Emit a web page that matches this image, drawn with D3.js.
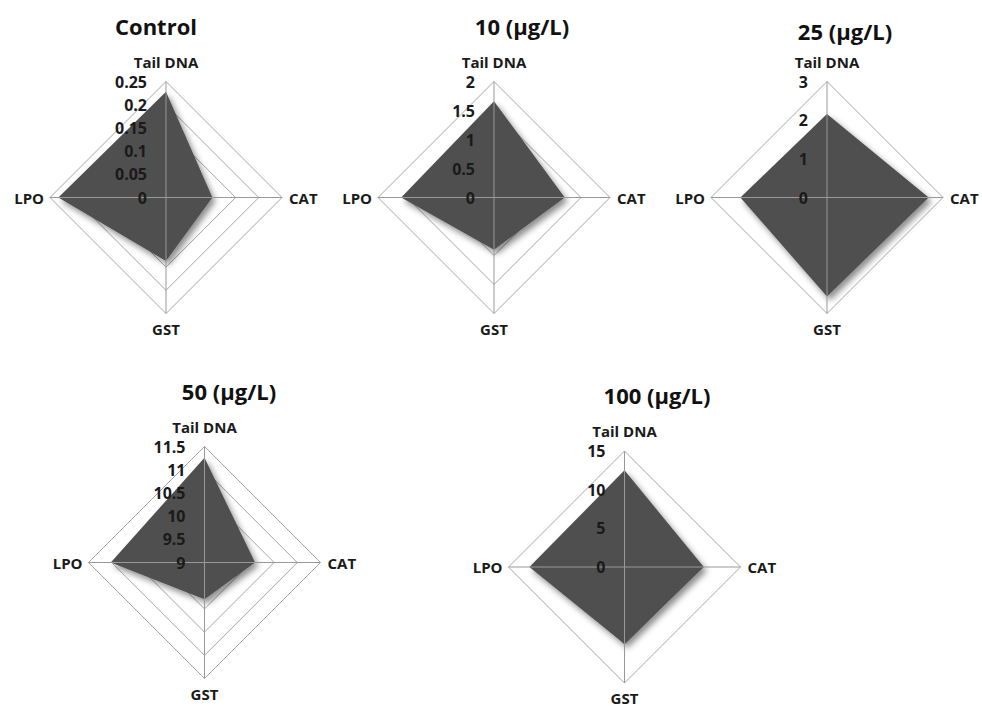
<!DOCTYPE html>
<html>
<head>
<meta charset="utf-8">
<script src="https://cdn.jsdelivr.net/npm/d3@7"></script>
<style>
  body { margin: 0; background: #fff; }
  svg { display: block; font-family: "Open Sans", Lato, sans-serif; font-weight: bold; }
</style>
</head>
<body>
<svg width="982" height="711"></svg>
<script>
// axes, clockwise from the top
const axes = ['Tail DNA', 'CAT', 'GST', 'LPO']
const titles = ['Control', '10 (µg/L)', '25 (µg/L)', '50 (µg/L)', '100 (µg/L)']

// values per chart, in axes order
const controlValues = [0.228, 0.10, 0.137, 0.232]
const conc10Values = [1.66, 1.22, 0.9, 1.6]
const conc25Values = [2.16, 2.63, 2.56, 2.24]
const conc50Values = [11.26, 10.09, 9.79, 11.02]
const conc100Values = [12.5, 10.26, 9.95, 12.3]

// tick labels per chart
const controlTicks = ['0', '0.05', '0.1', '0.15', '0.2', '0.25']
const conc10Ticks = ['0', '0.5', '1', '1.5', '2']
const conc25Ticks = ['0', '1', '2', '3']
const conc50Ticks = ['9', '9.5', '10', '10.5', '11', '11.5']
const conc100Ticks = ['0', '5', '10', '15']

const allValues = [controlValues, conc10Values, conc25Values, conc50Values, conc100Values]
const allTicks = [controlTicks, conc10Ticks, conc25Ticks, conc50Ticks, conc100Ticks]

// layout: chart centre, title position
const layout = [
  { cx: 166, cy: 197.5, tx: 156, ty: 35 },
  { cx: 494, cy: 197.5, tx: 522, ty: 35 },
  { cx: 827, cy: 197.5, tx: 845, ty: 40 },
  { cx: 204.5, cy: 562.5, tx: 229, ty: 400 },
  { cx: 624.5, cy: 567, tx: 657, ty: 404 }
]
const radius = 116

const svg = d3.select('svg')

// drop shadow under the filled area
const defs = svg.append('defs')
defs.append('filter')
    .attr('id', 'shadow')
    .attr('x', '-20%').attr('y', '-20%')
    .attr('width', '140%').attr('height', '140%')
  .append('feDropShadow')
    .attr('dx', 3).attr('dy', 4)
    .attr('stdDeviation', 3)
    .attr('flood-color', '#000')
    .attr('flood-opacity', 0.45)

const angle = i => -Math.PI / 2 + i * Math.PI / 2
const point = (i, r) => [Math.cos(angle(i)) * r, Math.sin(angle(i)) * r]

titles.forEach((title, k) => drawRadar(k))

function drawRadar(k) {
  const L = layout[k]
  const ticks = allTicks[k].map(Number)
  const values = allValues[k]

  const r = d3.scaleLinear()
    .domain([ticks[0], ticks[ticks.length - 1]])
    .range([0, radius])

  const g = svg.append('g').attr('transform', `translate(${L.cx},${L.cy})`)

  // grid rings
  g.append('g').selectAll('path.ring')
    .data(ticks.slice(1))
    .enter().append('path')
      .attr('d', t => 'M' + axes.map((a, i) => point(i, r(t))).join('L') + 'Z')
      .attr('fill', 'none')
      .attr('stroke', '#a6a6a6')
      .attr('stroke-width', 1)

  // filled series
  g.append('path')
    .datum(values)
    .attr('d', d => 'M' + d.map((v, i) => point(i, r(v))).join('L') + 'Z')
    .attr('fill', '#505050')
    .attr('filter', 'url(#shadow)')

  // spokes
  g.append('g').selectAll('line')
    .data(axes)
    .enter().append('line')
      .attr('x1', 0).attr('y1', 0)
      .attr('x2', (d, i) => point(i, radius)[0])
      .attr('y2', (d, i) => point(i, radius)[1])
      .attr('stroke', '#999')
      .attr('stroke-width', 1)

  // tick labels along the top spoke
  g.append('g').selectAll('text')
    .data(allTicks[k])
    .enter().append('text')
      .attr('x', -19)
      .attr('y', t => -r(+t))
      .attr('dy', '0.38em')
      .attr('text-anchor', 'end')
      .attr('font-size', 16)
      .attr('fill', '#1a1a1a')
      .text(t => t)

  // axis labels
  const labelPos = [
    { x: 0, y: -radius - 14, anchor: 'middle' },
    { x: radius + 7, y: 6, anchor: 'start' },
    { x: 0, y: radius + 21, anchor: 'middle' },
    { x: -radius - 6, y: 6, anchor: 'end' }
  ]
  g.append('g').selectAll('text')
    .data(axes)
    .enter().append('text')
      .attr('x', (d, i) => labelPos[i].x)
      .attr('y', (d, i) => labelPos[i].y)
      .attr('text-anchor', (d, i) => labelPos[i].anchor)
      .attr('font-size', 15)
      .attr('fill', '#1a1a1a')
      .text(d => d)

  // title
  svg.append('text')
    .attr('x', L.tx)
    .attr('y', L.ty)
    .attr('text-anchor', 'middle')
    .attr('font-size', 22)
    .attr('fill', '#111')
    .text(titles[k])
}
</script>
</body>
</html>
